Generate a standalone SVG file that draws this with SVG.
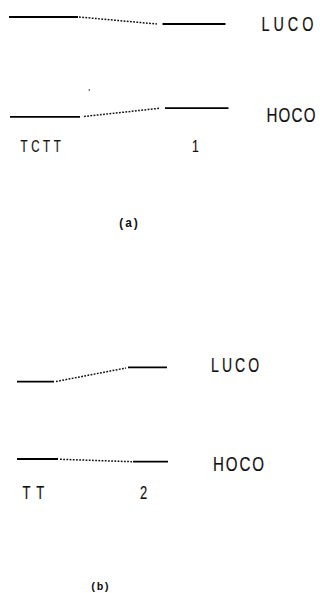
<svg xmlns="http://www.w3.org/2000/svg" width="320" height="593" viewBox="0 0 320 593">
<style>
.lvl{stroke:#000;stroke-width:1.8;fill:none}
.con{stroke:#111;stroke-width:1.5;stroke-dasharray:1.8 1.4;fill:none}
.lbl{font-family:"Liberation Sans",Arial,sans-serif;fill:#111;stroke:#111;stroke-width:0.2}
.cap{font-family:"Liberation Mono","Courier New",monospace;font-weight:bold;fill:#111}
</style>
<rect width="320" height="593" fill="#fff"/>
<!-- panel (a) -->
<g id="a-tctt-luco"><line class="lvl" x1="9" y1="17" x2="78" y2="17"/></g>
<g id="a-1-luco"><line class="lvl" x1="162.5" y1="24" x2="225.5" y2="24"/></g>
<g id="a-tctt-hoco"><line class="lvl" x1="10" y1="116.8" x2="80" y2="116.8"/></g>
<g id="a-1-hoco"><line class="lvl" x1="165" y1="108.2" x2="228.5" y2="108.2"/></g>
<g id="a-labels">
<text class="lbl" font-size="20" transform="translate(261.5,31) scale(0.72,1)" textLength="72" lengthAdjust="spacing">LUCO</text>
<text class="lbl" font-size="21" transform="translate(266.5,121.7) scale(0.72,1)" textLength="68" lengthAdjust="spacing">HOCO</text>
<text class="lbl" font-size="16" transform="translate(20.5,151.7) scale(0.72,1)" textLength="56" lengthAdjust="spacing">TCTT</text>
<text class="lbl" font-size="17" text-anchor="middle" transform="translate(195.5,152) scale(0.72,1)">1</text>
<text class="cap" font-size="12" text-anchor="middle" x="128.5" y="227">(a)</text>
</g>
<circle cx="89.3" cy="90" r="0.8" fill="#222"/>
<!-- panel (b) -->
<g id="b-tt-luco"><line class="lvl" x1="17" y1="381.7" x2="54" y2="381.7"/></g>
<g id="b-2-luco"><line class="lvl" x1="128" y1="367.3" x2="167" y2="367.3"/></g>
<g id="b-tt-hoco"><line class="lvl" x1="17" y1="459" x2="58" y2="459"/></g>
<g id="b-2-hoco"><line class="lvl" x1="133" y1="461.7" x2="168" y2="461.7"/></g>
<g id="b-labels">
<text class="lbl" font-size="19.5" transform="translate(211,372) scale(0.72,1)" textLength="67" lengthAdjust="spacing">LUCO</text>
<text class="lbl" font-size="21" transform="translate(213,470.8) scale(0.72,1)" textLength="71" lengthAdjust="spacing">HOCO</text>
<text class="lbl" font-size="18" transform="translate(22.5,499.3) scale(0.72,1)" textLength="30" lengthAdjust="spacing">TT</text>
<text class="lbl" font-size="18" text-anchor="middle" transform="translate(143.5,499.3) scale(0.72,1)">2</text>
<text class="cap" font-size="11" text-anchor="middle" x="100" y="589.5">(b)</text>
</g>
<g id="connectors">
<line class="con" x1="79" y1="17" x2="157" y2="24"/>
<line class="con" x1="84" y1="116.5" x2="160" y2="108.2"/>
<line class="con" x1="56" y1="381.5" x2="126" y2="368"/>
<line class="con" x1="60" y1="459.3" x2="132" y2="461.7"/>
</g>
</svg>
